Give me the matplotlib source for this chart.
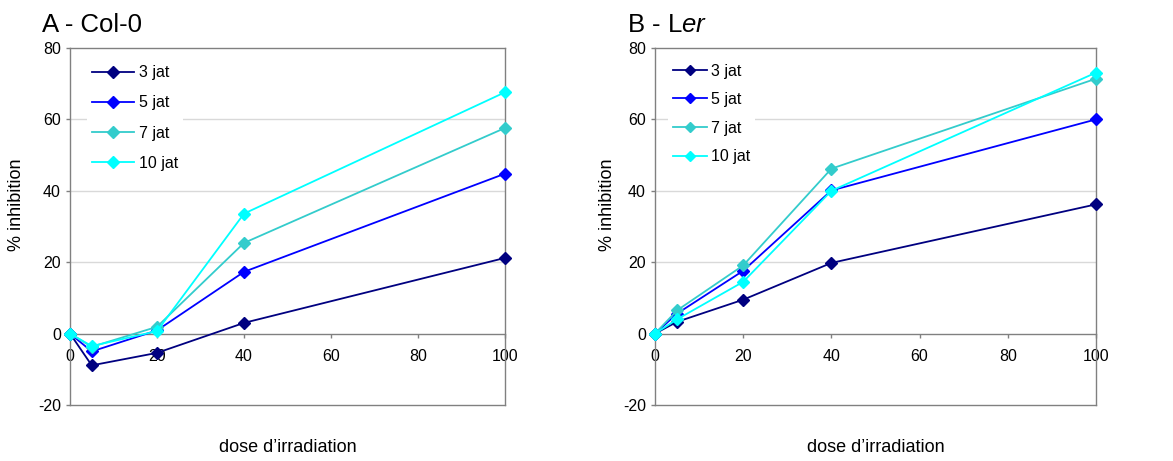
import numpy as np
import matplotlib
matplotlib.use('Agg')
import matplotlib.pyplot as plt

fnt = {'family': ['Liberation Sans', 'DejaVu Sans'], 'size': 11}
matplotlib.rc('font', **fnt)
matplotlib.rcParams['axes.unicode_minus'] = False
matplotlib.rcParams['mathtext.fontset'] = 'custom'
matplotlib.rcParams['mathtext.rm'] = 'Liberation Sans'
matplotlib.rcParams['mathtext.it'] = 'Liberation Sans:italic'

# dose (x) and inhibition values
dose = [0, 5, 20, 40, 100]
labels = ['3 jat', '5 jat', '7 jat', '10 jat']
colors = ['#000080', '#0000ff', '#33cccc', '#00ffff']

col_3 = [0, -8.9, -5.4, 3.0, 21.2]
col_5 = [0, -5.0, 0.9, 17.3, 44.8]
col_7 = [0, -3.7, 1.9, 25.4, 57.6]
col_10 = [0, -3.5, 0.7, 33.6, 67.6]

ler_3 = [0, 3.3, 9.5, 19.8, 36.2]
ler_5 = [0, 5.6, 17.6, 40.1, 60.0]
ler_7 = [0, 6.5, 19.1, 46.2, 71.4]
ler_10 = [0, 4.0, 14.5, 40.0, 73.1]

W, H = 1173, 461
F1 = plt.figure(figsize=(W / 100, H / 100), dpi=100)

def px(x0, y0, x1, y1):
    return [x0 / W, 1 - y1 / H, (x1 - x0) / W, (y1 - y0) / H]

def panel(rect, series, leg_anchor, leg_space, hlen, ylab_x, mscale):
    ax = F1.add_axes(rect)
    for s, lab, c in zip(series, labels, colors):
        ax.plot(dose, s, '-', color=c, marker='D', markersize=6, lw=1.3,
                label=lab, clip_on=False, zorder=3)
    ax.set_xlim(0, 100)
    ax.set_ylim(-20, 80)
    ax.set_xticks([0, 20, 40, 60, 80, 100])
    ax.set_yticks([-20, 0, 20, 40, 60, 80])
    for y in [20, 40, 60]:
        ax.axhline(y, color='#d9d9d9', lw=1.0, zorder=0)
    for sp in ax.spines.values():
        sp.set_color('#808080')
        sp.set_linewidth(1.0)
    ax.spines['bottom'].set_position(('data', 0))
    ax.axhline(-20, color='#808080', lw=1.0, clip_on=False, zorder=1)
    ax.tick_params(axis='both', direction='out', colors='#808080',
                   labelcolor='black', labelsize=11.5, length=3, width=1)
    ax.tick_params(axis='x', pad=8)
    ax.set_xlabel('dose d\u2019irradiation', fontsize=13)
    ax.xaxis.set_label_coords(0.5, -0.095)
    ax.set_ylabel('% inhibition', fontsize=13)
    ax.yaxis.set_label_coords(ylab_x, 0.56)
    ax.legend(loc='upper left', bbox_to_anchor=leg_anchor, frameon=True,
              fancybox=False, edgecolor='none', facecolor='white',
              framealpha=1.0, fontsize=11.5, handlelength=hlen,
              handletextpad=0.3, labelspacing=leg_space, markerscale=mscale,
              borderpad=0.3, borderaxespad=0)
    return ax

axA = panel(px(70, 48, 505, 405), [col_3, col_5, col_7, col_10],
            (0.04, 0.965), 0.95, 2.6, -0.103, 1.0)
axB = panel(px(655, 48, 1096, 405), [ler_3, ler_5, ler_7, ler_10],
            (0.03, 0.97), 0.85, 2.1, -0.088, 0.8)

F1.text(42 / W, 1 - 32 / H, 'A - Col-0', fontsize=18.5, ha='left', va='baseline')
F1.text(627 / W, 1 - 32 / H, 'B - L$\\it{er}$', fontsize=18.5, ha='left', va='baseline')

F1.savefig('out.png', dpi=100)
